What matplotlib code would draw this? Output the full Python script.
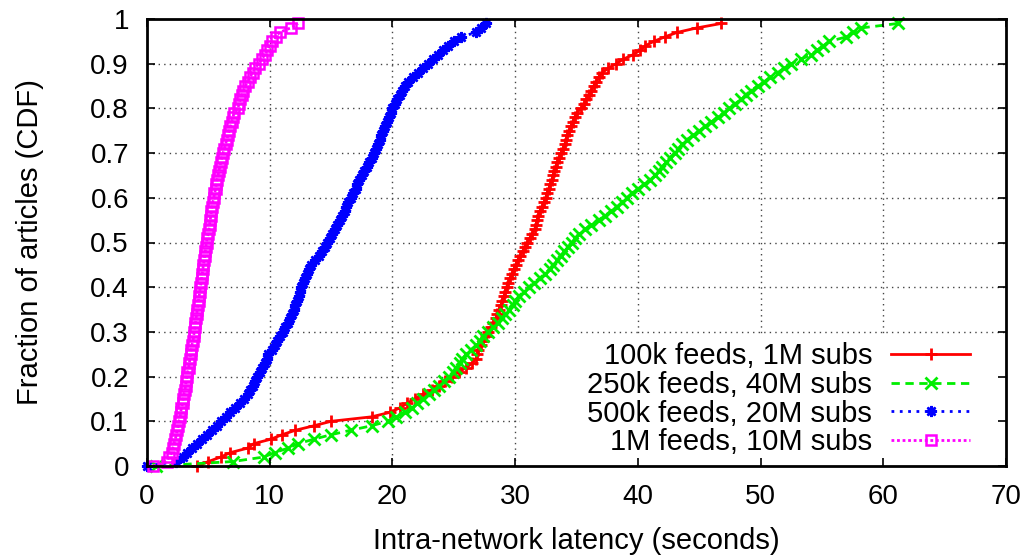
import numpy as np
import matplotlib
matplotlib.use('Agg')
import matplotlib.pyplot as plt
from matplotlib.patches import Rectangle

plt.rcParams['font.family'] = ['Liberation Sans', 'DejaVu Sans']

# sorted latency samples (seconds), 100 articles per configuration
lat_100k = [4.1, 5.0, 6.0, 6.8, 8.2, 8.7, 10.1, 11.0, 12.1, 13.6,
            15.0, 18.3, 19.8, 20.6, 21.2, 21.8, 22.5, 23.2, 23.8, 24.3,
            24.85, 25.4, 26.0, 26.5, 26.8, 26.9, 27.0, 27.2, 27.4, 27.6,
            27.8, 28.0, 28.2, 28.4, 28.55, 28.7, 28.85, 28.95, 29.1, 29.2,
            29.3, 29.45, 29.6, 29.75, 29.9, 30.05, 30.2, 30.4, 30.6, 30.8,
            31.0, 31.2, 31.4, 31.6, 31.7, 31.8, 31.9, 32.0, 32.2, 32.35,
            32.5, 32.6, 32.75, 32.85, 33.0, 33.1, 33.2, 33.3, 33.45, 33.6,
            33.75, 33.9, 34.05, 34.15, 34.25, 34.4, 34.55, 34.7, 34.85, 35.0,
            35.4, 35.6, 35.8, 36.0, 36.2, 36.4, 36.6, 36.8, 37.1, 37.6,
            38.25, 38.8, 39.6, 40.2, 40.6, 41.3, 42.2, 43.2, 44.8, 46.8]

lat_250k = [0.7, 7.0, 9.5, 10.4, 11.5, 12.3, 13.6, 15.0, 16.6, 18.3,
            19.6, 20.3, 21.0, 21.6, 22.0, 22.5, 23.0, 23.4, 23.8, 24.2,
            24.6, 24.9, 25.2, 25.5, 25.7, 26.0, 26.4, 26.8, 27.1, 27.4,
            27.8, 28.2, 28.6, 28.9, 29.2, 29.5, 29.8, 30.0, 30.3, 30.7,
            31.1, 31.5, 32.0, 32.4, 32.8, 33.1, 33.4, 33.7, 34.0, 34.3,
            34.6, 34.9, 35.2, 35.7, 36.2, 36.8, 37.3, 37.8, 38.3, 38.7,
            39.1, 39.5, 40.0, 40.5, 41.0, 41.4, 41.7, 42.0, 42.3, 42.6,
            43.0, 43.3, 43.6, 44.0, 44.5, 45.0, 45.5, 46.0, 46.5, 47.0,
            47.4, 47.9, 48.4, 48.8, 49.2, 49.8, 50.3, 50.8, 51.4, 51.9,
            52.5, 53.3, 54.1, 54.6, 55.1, 55.6, 57.0, 57.5, 58.2, 61.2]

lat_500k = [0.0, 2.4, 2.9, 3.3, 3.7, 4.1, 4.5, 4.9, 5.3, 5.7,
            6.0, 6.4, 6.8, 7.2, 7.6, 7.9, 8.2, 8.4, 8.6, 8.8,
            9.0, 9.2, 9.4, 9.6, 9.75, 9.9, 10.15, 10.4, 10.6, 10.85,
            11.05, 11.25, 11.45, 11.65, 11.85, 12.0, 12.1, 12.25, 12.35, 12.45,
            12.55, 12.7, 12.9, 13.05, 13.2, 13.4, 13.7, 14.0, 14.3, 14.5,
            14.7, 14.9, 15.1, 15.3, 15.5, 15.7, 15.9, 16.1, 16.25, 16.4,
            16.6, 16.8, 17.0, 17.15, 17.3, 17.5, 17.7, 17.9, 18.1, 18.3,
            18.5, 18.65, 18.8, 18.95, 19.1, 19.25, 19.4, 19.55, 19.7, 19.85,
            20.0, 20.2, 20.4, 20.6, 20.8, 21.0, 21.3, 21.7, 22.1, 22.5,
            22.9, 23.3, 23.7, 24.1, 24.5, 25.0, 25.6, 26.8, 27.2, 27.6]

lat_1m = [0.5, 1.6, 1.8, 2.0, 2.1, 2.2, 2.3, 2.4, 2.45, 2.55,
          2.6, 2.7, 2.75, 2.8, 2.9, 2.95, 3.0, 3.1, 3.15, 3.2,
          3.25, 3.3, 3.4, 3.45, 3.5, 3.55, 3.6, 3.65, 3.75, 3.8,
          3.85, 3.9, 3.95, 4.0, 4.05, 4.1, 4.15, 4.2, 4.25, 4.3,
          4.35, 4.4, 4.45, 4.5, 4.55, 4.6, 4.65, 4.7, 4.75, 4.8,
          4.85, 4.9, 5.0, 5.05, 5.1, 5.15, 5.2, 5.25, 5.3, 5.35,
          5.45, 5.5, 5.6, 5.65, 5.7, 5.8, 5.85, 5.95, 6.0, 6.1,
          6.2, 6.3, 6.4, 6.5, 6.6, 6.7, 6.8, 6.9, 7.0, 7.1,
          7.4, 7.5, 7.6, 7.75, 7.85, 8.0, 8.2, 8.4, 8.6, 8.8,
          9.1, 9.35, 9.6, 9.8, 10.0, 10.2, 10.5, 10.8, 11.7, 12.3]

labels = ['100k feeds, 1M subs', '250k feeds, 40M subs',
          '500k feeds, 20M subs', '1M feeds, 10M subs']

x_ticks = [0, 10, 20, 30, 40, 50, 60, 70]
y_ticks = [0, 0.1, 0.2, 0.3, 0.4, 0.5, 0.6, 0.7, 0.8, 0.9, 1]
y_ticklabels = ['0', '0.1', '0.2', '0.3', '0.4', '0.5', '0.6', '0.7', '0.8', '0.9', '1']


def cdf(samples):
    xs = np.sort(np.asarray(samples, dtype=float))
    ys = np.arange(len(xs)) / len(xs)
    return xs, ys


fig = plt.figure(figsize=(10.31, 5.57), dpi=100)
ax = fig.add_axes([147 / 1031, 1 - 466 / 557, 859 / 1031, 447 / 557])

styles = [
    dict(color='#ff0000', ls='-', lw=2, marker='+', ms=9, mew=2),
    dict(color='#00ee00', ls=(0, (3, 2)), lw=2, marker='x', ms=8, mew=2),
    dict(color='#0000ff', ls=(0, (1, 2)), lw=2, marker=(8, 2, 0), ms=8, mew=1.8),
    dict(color='#ff00ff', ls=(0, (1, 1)), lw=2, marker='s', ms=7, mew=1.8, mfc='none'),
]

for data, lab, st in zip([lat_100k, lat_250k, lat_500k, lat_1m], labels, styles):
    xs, ys = cdf(data)
    ax.plot(xs, ys, label=lab, clip_on=False, zorder=2, **st)

ax.set_xlim(0, 70)
ax.set_ylim(0, 1)
ax.set_xticks(x_ticks)
ax.set_yticks(y_ticks)
ax.set_yticklabels(y_ticklabels)
ax.tick_params(direction='in', length=6, width=1.2, labelsize=20,
               top=True, right=True, pad=13)
ax.set_axisbelow(False)

# dotted grid drawn by hand so the key box can blank it out
grid_kw = dict(color='#444444', ls=(0, (1, 3)), lw=1, zorder=1)
for xt in x_ticks[1:-1]:
    ax.axvline(xt, **grid_kw)
for yt in y_ticks[1:-1]:
    ax.axhline(yt, **grid_kw)
ax.add_patch(Rectangle((0.434, 0.0), 0.566, 0.289, transform=ax.transAxes,
                       facecolor='white', edgecolor='none', zorder=1.2))

for sp in ax.spines.values():
    sp.set_linewidth(2)
    sp.set_zorder(3)

ax.set_xlabel('Intra-network latency (seconds)', fontsize=21, labelpad=12)
ax.set_ylabel('Fraction of articles (CDF)', fontsize=21, labelpad=33)

leg = ax.legend(loc='lower right', bbox_to_anchor=(0.958, 0.022),
                markerfirst=False, numpoints=1, frameon=False,
                fontsize=21, handlelength=2.7, handletextpad=0.65,
                labelspacing=0.02, borderaxespad=0.0, borderpad=0.0)
leg.set_zorder(1.5)
for t in leg.get_texts():
    t.set_ha('right')

fig.savefig('out.png', dpi=100)
